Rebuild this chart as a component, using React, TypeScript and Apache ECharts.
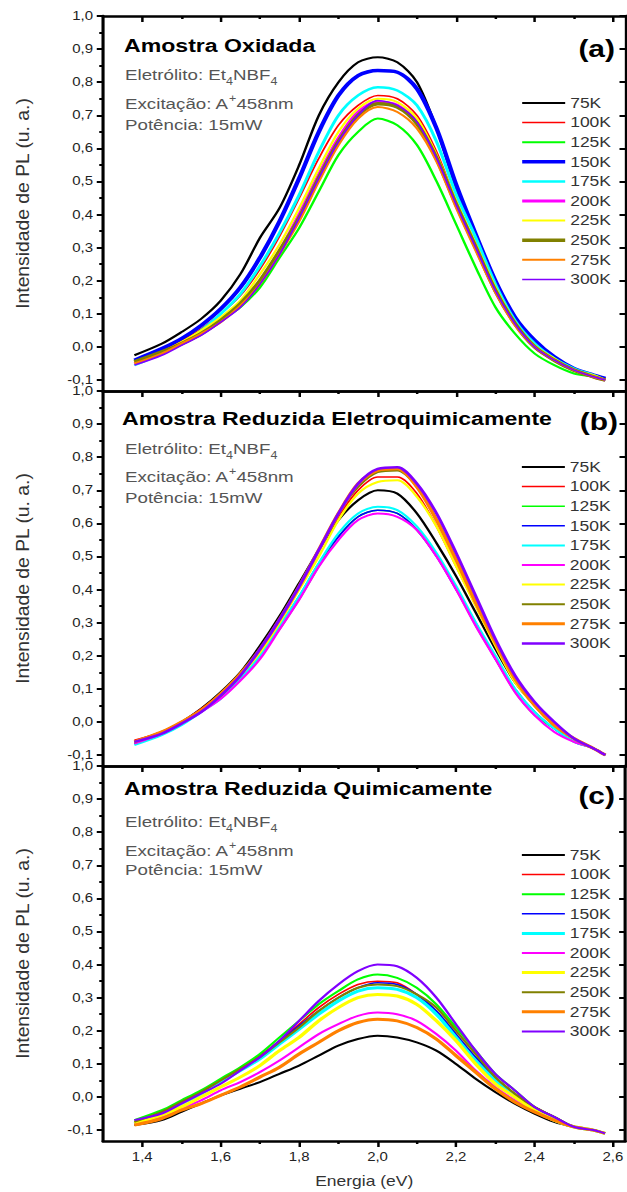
import React, { useEffect, useRef } from "react";
import * as echarts from "echarts";

// ---------------- DATA ----------------
const temperatures = ["75K", "100K", "125K", "150K", "175K", "200K", "225K", "250K", "275K", "300K"];
const energy = [1.38, 1.45, 1.5, 1.55, 1.6, 1.65, 1.7, 1.75, 1.8, 1.85, 1.9, 1.95, 2.0, 2.05, 2.1, 2.15, 2.2, 2.25, 2.3, 2.35, 2.4, 2.45, 2.5, 2.55, 2.58];

// (a) Amostra Oxidada
const ox75 = [-0.025, 0.01, 0.045, 0.085, 0.14, 0.22, 0.33, 0.42, 0.55, 0.7, 0.8, 0.86, 0.875, 0.86, 0.8, 0.66, 0.48, 0.33, 0.2, 0.09, 0.02, -0.03, -0.065, -0.085, -0.095];
const ox100 = [-0.04, -0.01, 0.02, 0.055, 0.1, 0.155, 0.235, 0.335, 0.45, 0.57, 0.67, 0.73, 0.76, 0.75, 0.7, 0.59, 0.44, 0.31, 0.18, 0.08, 0.01, -0.035, -0.065, -0.085, -0.095];
const ox125 = [-0.045, -0.015, 0.01, 0.04, 0.08, 0.12, 0.18, 0.27, 0.36, 0.47, 0.58, 0.65, 0.69, 0.67, 0.61, 0.5, 0.37, 0.24, 0.12, 0.04, -0.02, -0.055, -0.08, -0.09, -0.1];
const ox150 = [-0.04, -0.005, 0.025, 0.065, 0.115, 0.18, 0.27, 0.38, 0.51, 0.65, 0.76, 0.82, 0.835, 0.83, 0.78, 0.66, 0.49, 0.34, 0.2, 0.09, 0.02, -0.03, -0.065, -0.085, -0.095];
const ox175 = [-0.055, -0.02, 0.01, 0.05, 0.1, 0.16, 0.245, 0.345, 0.46, 0.59, 0.7, 0.76, 0.785, 0.775, 0.73, 0.62, 0.46, 0.33, 0.19, 0.08, 0.01, -0.035, -0.065, -0.085, -0.1];
const ox200 = [-0.05, -0.02, 0.01, 0.04, 0.08, 0.13, 0.2, 0.29, 0.4, 0.52, 0.63, 0.71, 0.74, 0.73, 0.68, 0.57, 0.43, 0.3, 0.17, 0.07, 0.0, -0.04, -0.07, -0.09, -0.1];
const ox225 = [-0.045, -0.015, 0.015, 0.05, 0.09, 0.14, 0.22, 0.31, 0.42, 0.54, 0.65, 0.72, 0.75, 0.74, 0.69, 0.58, 0.44, 0.31, 0.18, 0.075, 0.005, -0.035, -0.07, -0.085, -0.1];
const ox250 = [-0.045, -0.015, 0.01, 0.04, 0.08, 0.13, 0.2, 0.29, 0.39, 0.51, 0.62, 0.7, 0.735, 0.725, 0.675, 0.57, 0.43, 0.3, 0.17, 0.07, 0.0, -0.04, -0.07, -0.09, -0.1];
const ox275 = [-0.05, -0.02, 0.01, 0.04, 0.075, 0.125, 0.19, 0.28, 0.38, 0.5, 0.61, 0.69, 0.725, 0.71, 0.66, 0.56, 0.42, 0.29, 0.165, 0.065, 0.0, -0.04, -0.07, -0.09, -0.1];
const ox300 = [-0.055, -0.025, 0.005, 0.035, 0.075, 0.12, 0.19, 0.28, 0.39, 0.51, 0.62, 0.7, 0.745, 0.73, 0.68, 0.57, 0.43, 0.3, 0.17, 0.07, 0.0, -0.04, -0.07, -0.09, -0.1];

// (b) Amostra Reduzida Eletroquimicamente
const el75 = [-0.06, -0.03, 0.0, 0.04, 0.09, 0.15, 0.23, 0.32, 0.42, 0.52, 0.61, 0.67, 0.7, 0.69, 0.63, 0.54, 0.44, 0.33, 0.22, 0.12, 0.05, -0.01, -0.05, -0.08, -0.1];
const el100 = [-0.055, -0.03, 0.0, 0.04, 0.085, 0.145, 0.22, 0.31, 0.41, 0.52, 0.62, 0.7, 0.74, 0.74, 0.69, 0.59, 0.47, 0.35, 0.23, 0.12, 0.05, -0.01, -0.05, -0.08, -0.1];
const el125 = [-0.065, -0.035, -0.005, 0.03, 0.075, 0.13, 0.2, 0.28, 0.37, 0.47, 0.56, 0.62, 0.64, 0.63, 0.58, 0.5, 0.4, 0.29, 0.19, 0.09, 0.02, -0.02, -0.06, -0.08, -0.1];
const el150 = [-0.065, -0.035, -0.005, 0.03, 0.075, 0.13, 0.2, 0.29, 0.38, 0.48, 0.56, 0.62, 0.64, 0.63, 0.58, 0.5, 0.4, 0.3, 0.19, 0.1, 0.03, -0.02, -0.06, -0.08, -0.1];
const el175 = [-0.07, -0.04, -0.01, 0.03, 0.07, 0.13, 0.2, 0.29, 0.38, 0.48, 0.57, 0.63, 0.65, 0.64, 0.59, 0.51, 0.41, 0.3, 0.2, 0.1, 0.03, -0.02, -0.06, -0.08, -0.1];
const el200 = [-0.065, -0.035, -0.005, 0.03, 0.07, 0.125, 0.19, 0.28, 0.37, 0.47, 0.55, 0.61, 0.63, 0.62, 0.58, 0.5, 0.4, 0.29, 0.19, 0.09, 0.02, -0.03, -0.06, -0.08, -0.1];
const el225 = [-0.06, -0.03, 0.0, 0.035, 0.08, 0.14, 0.21, 0.3, 0.4, 0.5, 0.61, 0.69, 0.725, 0.73, 0.68, 0.59, 0.47, 0.35, 0.23, 0.12, 0.05, -0.01, -0.05, -0.08, -0.1];
const el250 = [-0.06, -0.03, 0.0, 0.035, 0.08, 0.14, 0.22, 0.31, 0.41, 0.52, 0.63, 0.71, 0.755, 0.76, 0.71, 0.61, 0.49, 0.36, 0.24, 0.13, 0.05, -0.01, -0.05, -0.08, -0.1];
const el275 = [-0.06, -0.03, 0.0, 0.035, 0.085, 0.145, 0.22, 0.31, 0.41, 0.52, 0.63, 0.72, 0.76, 0.765, 0.71, 0.61, 0.49, 0.36, 0.24, 0.13, 0.05, -0.01, -0.05, -0.08, -0.1];
const el300 = [-0.06, -0.035, -0.005, 0.03, 0.08, 0.14, 0.22, 0.31, 0.41, 0.52, 0.63, 0.72, 0.765, 0.77, 0.72, 0.63, 0.51, 0.38, 0.25, 0.14, 0.06, 0.0, -0.05, -0.08, -0.1];

// (c) Amostra Reduzida Quimicamente
const qu75 = [-0.085, -0.07, -0.045, -0.02, 0.005, 0.025, 0.045, 0.07, 0.095, 0.125, 0.155, 0.175, 0.185, 0.18, 0.165, 0.14, 0.1, 0.055, 0.015, -0.02, -0.05, -0.075, -0.09, -0.1, -0.11];
const qu100 = [-0.075, -0.045, -0.015, 0.015, 0.05, 0.085, 0.125, 0.17, 0.22, 0.27, 0.31, 0.34, 0.35, 0.345, 0.31, 0.26, 0.19, 0.12, 0.06, 0.01, -0.03, -0.06, -0.09, -0.1, -0.11];
const qu125 = [-0.07, -0.04, -0.01, 0.02, 0.055, 0.09, 0.13, 0.18, 0.23, 0.28, 0.32, 0.355, 0.37, 0.36, 0.33, 0.28, 0.21, 0.14, 0.07, 0.02, -0.03, -0.06, -0.09, -0.1, -0.11];
const qu150 = [-0.08, -0.05, -0.02, 0.01, 0.045, 0.08, 0.12, 0.165, 0.215, 0.26, 0.3, 0.33, 0.345, 0.34, 0.31, 0.26, 0.19, 0.12, 0.06, 0.01, -0.03, -0.06, -0.09, -0.1, -0.11];
const qu175 = [-0.08, -0.05, -0.02, 0.01, 0.045, 0.08, 0.115, 0.16, 0.205, 0.25, 0.29, 0.32, 0.33, 0.325, 0.3, 0.25, 0.18, 0.11, 0.05, 0.0, -0.04, -0.07, -0.09, -0.1, -0.11];
const qu200 = [-0.08, -0.06, -0.035, -0.01, 0.02, 0.045, 0.075, 0.11, 0.15, 0.19, 0.22, 0.245, 0.255, 0.25, 0.23, 0.19, 0.14, 0.08, 0.03, -0.01, -0.04, -0.07, -0.09, -0.1, -0.11];
const qu225 = [-0.08, -0.055, -0.03, 0.0, 0.03, 0.06, 0.095, 0.14, 0.18, 0.23, 0.27, 0.3, 0.31, 0.305, 0.28, 0.23, 0.17, 0.1, 0.04, 0.0, -0.04, -0.07, -0.09, -0.1, -0.11];
const qu250 = [-0.075, -0.045, -0.015, 0.015, 0.05, 0.085, 0.12, 0.165, 0.21, 0.26, 0.3, 0.33, 0.34, 0.335, 0.31, 0.27, 0.2, 0.13, 0.06, 0.01, -0.03, -0.06, -0.09, -0.1, -0.11];
const qu275 = [-0.085, -0.065, -0.04, -0.02, 0.005, 0.03, 0.06, 0.09, 0.13, 0.165, 0.2, 0.225, 0.235, 0.23, 0.21, 0.175, 0.125, 0.075, 0.025, -0.015, -0.045, -0.07, -0.09, -0.1, -0.11];
const qu300 = [-0.07, -0.05, -0.02, 0.01, 0.04, 0.08, 0.12, 0.17, 0.23, 0.29, 0.34, 0.38, 0.4, 0.395, 0.36, 0.3, 0.22, 0.14, 0.07, 0.02, -0.03, -0.06, -0.09, -0.1, -0.11];

const panelA = [ox75, ox100, ox125, ox150, ox175, ox200, ox225, ox250, ox275, ox300];
const panelB = [el75, el100, el125, el150, el175, el200, el225, el250, el275, el300];
const panelC = [qu75, qu100, qu125, qu150, qu175, qu200, qu225, qu250, qu275, qu300];

const panelTitles = ["Amostra Oxidada", "Amostra Reduzida Eletroquimicamente", "Amostra Reduzida Quimicamente"];
const panelLetters = ["(a)", "(b)", "(c)"];

const xMajorTicks = [1.4, 1.6, 1.8, 2.0, 2.2, 2.4, 2.6];
const xMinorTicks = [1.5, 1.7, 1.9, 2.1, 2.3, 2.5];
const yMajorTicks = [-0.1, 0.0, 0.1, 0.2, 0.3, 0.4, 0.5, 0.6, 0.7, 0.8, 0.9, 1.0];
const yMinorTicks = [-0.05, 0.05, 0.15, 0.25, 0.35, 0.45, 0.55, 0.65, 0.75, 0.85, 0.95];

// ---------------- STYLE ----------------
const COLORS = ["#000000", "#FF0000", "#00FF00", "#0000FF", "#00FFFF", "#FF00FF", "#FFFF00", "#808000", "#FF8000", "#8000FF"];
const WIDTHS = [
  [2, 1.5, 2, 3.5, 2.5, 3, 2, 3.5, 2, 1.5],
  [2, 1.5, 1.5, 1.5, 2, 2, 2, 2, 3, 2.5],
  [2, 1.5, 2, 1.5, 3, 2, 3, 2, 3, 2],
];
const FF = "'Liberation Sans', Arial, sans-serif";
const SX = 627 / 502; // horizontal stretch of the reference
const px = (x: number) => x / SX;

const X_MIN = 1.3;
const X_MAX = 2.632;
const Y_MIN = -0.133;
const Y_MAX = 1.0;
const GRID_TOPS = [16, 391, 766];
const GRID_H = 375;
const LEGEND_TOPS = [96, 460, 848];
const TITLE_Y = [45, 418, 788];
const LETTER_Y = [49, 422, 796];
const NOTE_Y = [
  [75, 104, 125],
  [449, 477, 498],
  [822, 851, 870],
];

const fmt = (v: number) => v.toFixed(1).replace(".", ",");

export default function App() {
  const ref = useRef<HTMLDivElement>(null);

  useEffect(() => {
    if (!ref.current) return;
    const chart = echarts.init(ref.current, null, { renderer: "svg" });
    const panels = [panelA, panelB, panelC];

    const grid: any[] = [];
    const xAxis: any[] = [];
    const yAxis: any[] = [];
    const series: any[] = [];
    const legend: any[] = [];
    const graphic: any[] = [];
    const axisLineStyle = { color: "#000", width: 2.5 };
    const tickLine = { color: "#000", width: 2 };

    panels.forEach((panel, p) => {
      grid.push({ left: px(103), right: 1, top: GRID_TOPS[p], height: GRID_H, containLabel: false });
      const isLast = p === 2;
      // bottom main
      xAxis.push({
        gridIndex: p, type: "value", position: "bottom", min: X_MIN, max: X_MAX,
        axisLine: { show: true, onZero: false, lineStyle: axisLineStyle },
        axisTick: { show: isLast, inside: false, length: 6, lineStyle: tickLine, customValues: xMajorTicks },
        axisLabel: { show: isLast, customValues: xMajorTicks, formatter: fmt, margin: 10, fontSize: 12, color: "#222", fontFamily: FF },
        splitLine: { show: false },
        name: isLast ? "Energia (eV)" : "",
        nameLocation: "middle", nameGap: 33,
        nameTextStyle: { fontSize: 14, color: "#333", fontFamily: FF },
      });
      // bottom minor
      xAxis.push({
        gridIndex: p, type: "value", position: "bottom", min: X_MIN, max: X_MAX,
        axisLine: { show: false, onZero: false },
        axisTick: { show: isLast, inside: false, length: 3, lineStyle: tickLine, customValues: xMinorTicks },
        axisLabel: { show: false }, splitLine: { show: false },
      });
      // top major
      xAxis.push({
        gridIndex: p, type: "value", position: "top", min: X_MIN, max: X_MAX,
        axisLine: { show: true, onZero: false, lineStyle: axisLineStyle },
        axisTick: { show: true, inside: true, length: 6, lineStyle: tickLine, customValues: xMajorTicks },
        axisLabel: { show: false }, splitLine: { show: false },
      });
      // top minor
      xAxis.push({
        gridIndex: p, type: "value", position: "top", min: X_MIN, max: X_MAX,
        axisLine: { show: false, onZero: false },
        axisTick: { show: true, inside: true, length: 3, lineStyle: tickLine, customValues: xMinorTicks },
        axisLabel: { show: false }, splitLine: { show: false },
      });
      // left main
      yAxis.push({
        gridIndex: p, type: "value", position: "left", min: Y_MIN, max: Y_MAX,
        axisLine: { show: true, onZero: false, lineStyle: axisLineStyle },
        axisTick: { show: true, inside: false, length: 5, lineStyle: tickLine, customValues: yMajorTicks },
        axisLabel: { show: true, customValues: yMajorTicks, formatter: fmt, margin: 8, fontSize: 12, color: "#222", fontFamily: FF },
        splitLine: { show: false },
      });
      // left minor
      yAxis.push({
        gridIndex: p, type: "value", position: "left", min: Y_MIN, max: Y_MAX,
        axisLine: { show: false, onZero: false },
        axisTick: { show: true, inside: false, length: 3, lineStyle: tickLine, customValues: yMinorTicks },
        axisLabel: { show: false }, splitLine: { show: false },
      });
      // right
      yAxis.push({
        gridIndex: p, type: "value", position: "right", min: Y_MIN, max: Y_MAX,
        axisLine: { show: true, onZero: false, lineStyle: axisLineStyle },
        axisTick: { show: true, inside: true, length: 5, lineStyle: tickLine, customValues: yMajorTicks },
        axisLabel: { show: false }, splitLine: { show: false },
      });

      panel.forEach((vals, i) => {
        series.push({
          type: "line",
          name: temperatures[i],
          xAxisIndex: p * 4,
          yAxisIndex: p * 3,
          data: energy.map((e, k) => [e, vals[k]]),
          showSymbol: false,
          symbol: "none",
          smooth: 0.3,
          silent: true,
          lineStyle: { color: COLORS[i], width: WIDTHS[p][i] },
          itemStyle: { color: COLORS[i] },
        });
      });

      legend.push({
        orient: "vertical",
        left: px(520),
        top: LEGEND_TOPS[p],
        padding: 0,
        itemWidth: px(43),
        itemHeight: 14,
        itemGap: 5.6,
        selectedMode: false,
        itemStyle: { opacity: 0 },
        textStyle: { fontSize: 14, color: "#333", fontFamily: FF, padding: [0, 0, 0, -1] },
        data: temperatures.map((t, i) => ({ name: t, lineStyle: { width: WIDTHS[p][i], color: COLORS[i] } })),
      });

      const centerY = GRID_TOPS[p] + GRID_H / 2;
      graphic.push({
        type: "text", x: px(23), y: centerY, rotation: Math.PI / 2, scaleX: 1.38, silent: true,
        style: { text: "Intensidade de PL (u. a.)", fontSize: 14, fontFamily: FF, fill: "#333", align: "center", textAlign: "center", verticalAlign: "middle", textVerticalAlign: "middle" },
      });
      graphic.push({
        type: "text", x: px(p === 1 ? 122 : 124), y: TITLE_Y[p], silent: true,
        style: { text: panelTitles[p], fontSize: 18.5, fontWeight: "bold", fontFamily: FF, fill: "#000", verticalAlign: "middle", textVerticalAlign: "middle" },
      });
      graphic.push({
        type: "text", x: px(p === 1 ? 618 : 615), y: LETTER_Y[p], silent: true,
        style: { text: panelLetters[p], fontSize: 24, fontWeight: "bold", fontFamily: FF, fill: "#000", align: "right", textAlign: "right", verticalAlign: "middle", textVerticalAlign: "middle" },
      });
      const n = { fontSize: 15, lineHeight: 22, fontFamily: FF, fill: "#555", color: "#555" };
      const sub = { fontSize: 10, lineHeight: 10, fontFamily: FF, fill: "#555", color: "#555", verticalAlign: "bottom" };
      const sup = { fontSize: 10, lineHeight: 10, fontFamily: FF, fill: "#555", color: "#555", verticalAlign: "top" };
      graphic.push({
        type: "text", x: px(125), y: NOTE_Y[p][0], silent: true,
        style: { text: "{n|Eletrólito: Et}{s|4}{n|NBF}{s|4}", rich: { n, s: sub }, fontSize: 15, fontFamily: FF, fill: "#555", verticalAlign: "middle", textVerticalAlign: "middle" },
      });
      graphic.push({
        type: "text", x: px(125), y: NOTE_Y[p][1], silent: true,
        style: { text: "{n|Excitação: A}{p|+}{n|458nm}", rich: { n, p: sup }, fontSize: 15, fontFamily: FF, fill: "#555", verticalAlign: "middle", textVerticalAlign: "middle" },
      });
      graphic.push({
        type: "text", x: px(125), y: NOTE_Y[p][2], silent: true,
        style: { text: "Potência: 15mW", fontSize: 15, fontFamily: FF, fill: "#555", verticalAlign: "middle", textVerticalAlign: "middle" },
      });
    });

    chart.setOption({
      animation: false,
      backgroundColor: "#fff",
      grid,
      xAxis,
      yAxis,
      series,
      legend,
      graphic,
    });
    return () => chart.dispose();
  }, []);

  return (
    <div style={{ position: "absolute", left: 0, top: 0, width: 627, height: 1192, overflow: "hidden", background: "#fff" }}>
      <div ref={ref} style={{ width: 502, height: 1192, transform: `scaleX(${SX})`, transformOrigin: "0 0" }} />
    </div>
  );
}
